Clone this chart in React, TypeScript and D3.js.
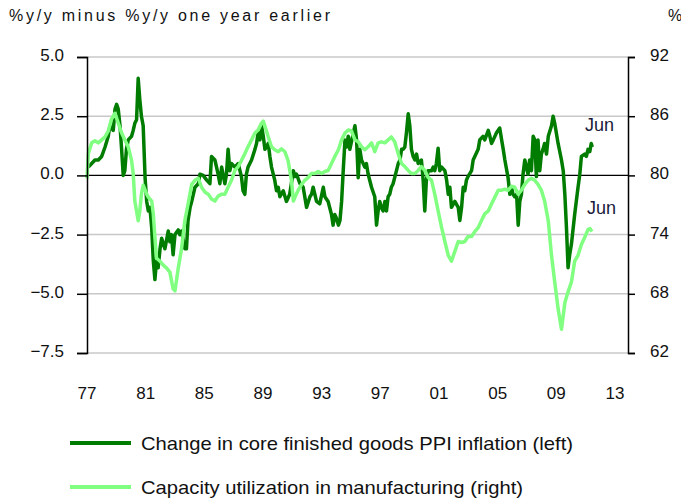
import React, { useEffect, useRef } from 'react';
import * as d3 from 'd3';

// Change in core finished goods PPI inflation (left axis), decimal years
const ppiYears = [
  1977.09, 1977.32, 1977.54, 1977.77, 1978.0, 1978.23, 1978.45, 1978.56, 1978.79, 1978.91,
  1979.02, 1979.13, 1979.25, 1979.36, 1979.47, 1979.58, 1979.69, 1979.81, 1980.04, 1980.15,
  1980.26, 1980.38, 1980.49, 1980.6, 1980.71, 1980.83, 1980.96, 1981.07, 1981.18, 1981.29,
  1981.41, 1981.52, 1981.63, 1981.74, 1981.85, 1981.98, 1982.09, 1982.31, 1982.54, 1982.65,
  1982.76, 1982.87, 1983.0, 1983.22, 1983.33, 1983.45, 1983.67, 1983.78, 1983.89, 1984.03,
  1984.14, 1984.36, 1984.59, 1984.7, 1984.92, 1985.16, 1985.38, 1985.49, 1985.72, 1985.94,
  1986.06, 1986.18, 1986.4, 1986.51, 1986.62, 1986.74, 1986.85, 1987.08, 1987.31, 1987.53,
  1987.64, 1987.76, 1987.87, 1987.98, 1988.22, 1988.45, 1988.56, 1988.67, 1988.79, 1988.9,
  1989.02, 1989.13, 1989.36, 1989.47, 1989.58, 1989.8, 1989.92, 1990.04, 1990.15, 1990.38,
  1990.6, 1990.82, 1991.07, 1991.18, 1991.29, 1991.52, 1991.74, 1991.97, 1992.2, 1992.31,
  1992.42, 1992.65, 1992.87, 1993.11, 1993.22, 1993.44, 1993.67, 1993.78, 1993.89, 1994.0,
  1994.14, 1994.25, 1994.36, 1994.47, 1994.59, 1994.7, 1994.81, 1994.92, 1995.16, 1995.27,
  1995.38, 1995.49, 1995.6, 1995.72, 1995.94, 1996.05, 1996.17, 1996.4, 1996.62, 1996.74,
  1996.85, 1996.96, 1997.07, 1997.19, 1997.31, 1997.42, 1997.53, 1997.64, 1997.75, 1997.87,
  1998.1, 1998.22, 1998.34, 1998.45, 1998.56, 1998.67, 1998.78, 1998.9, 1999.01, 1999.12,
  1999.24, 1999.36, 1999.47, 1999.58, 1999.8, 1999.92, 2000.03, 2000.14, 2000.26, 2000.49,
  2000.6, 2000.71, 2000.82, 2000.94, 2001.05, 2001.18, 2001.4, 2001.52, 2001.63, 2001.74,
  2001.85, 2002.08, 2002.31, 2002.42, 2002.54, 2002.65, 2002.76, 2002.87, 2002.98, 2003.22,
  2003.33, 2003.44, 2003.67, 2003.78, 2004.0, 2004.12, 2004.36, 2004.47, 2004.58, 2004.7,
  2004.92, 2005.14, 2005.27, 2005.38, 2005.49, 2005.71, 2005.83, 2005.94, 2006.05, 2006.16,
  2006.29, 2006.4, 2006.51, 2006.62, 2006.73, 2006.85, 2006.96, 2007.07, 2007.18, 2007.3,
  2007.42, 2007.53, 2007.64, 2007.75, 2007.87, 2007.98, 2008.09, 2008.2, 2008.33, 2008.45,
  2008.67, 2008.78, 2008.89, 2009.12, 2009.35, 2009.47, 2009.58, 2009.69, 2009.8, 2009.91,
  2010.03, 2010.25, 2010.48, 2010.6, 2010.71, 2010.93, 2011.05, 2011.16, 2011.28, 2011.38,
  2011.45
];
const ppiValues = [
  0.35, 0.5, 0.65, 0.65, 0.8, 1.2, 1.65, 2.1, 1.9, 2.8,
  3.0, 2.8, 2.1, 1.1, 0.0, 0.2, 1.1, 1.5, 1.65, 1.9,
  2.2, 2.35, 4.1, 3.2, 2.5, 2.1, -0.1, -1.1, -1.5, -1.35,
  -2.2, -3.6, -4.4, -3.6, -3.9, -3.1, -2.65, -3.1, -2.35, -2.8,
  -2.5, -3.35, -2.5, -2.3, -2.5, -2.35, -3.1, -3.1, -1.9, -1.35,
  -1.1, -0.5, -0.35, 0.05, 0.0, -0.2, -0.35, 0.8, 0.65, 0.05,
  -0.35, 0.35, -0.35, 0.05, 1.1, 0.2, 0.5, 0.35, 0.5, -0.05,
  -0.65, -0.8, 0.05, 0.35, 0.65, 1.1, 1.35, 1.8, 1.5, 2.1,
  1.65, 1.1, 1.35, 0.8, 0.35, -0.2, -0.65, -0.5, -0.9, -0.65,
  -1.1, -0.8, 0.2, -0.05, 0.05, -0.35, -0.5, -1.35, -0.9, -0.8,
  -0.5, -1.1, -1.2, -0.5, -0.9, -1.1, -1.65, -2.1, -1.65, -1.8,
  -2.1, -1.9, -1.1, 0.2, 1.5, 1.2, 1.65, 1.1, 1.8, 2.1,
  1.5, -0.1, 1.1, 0.65, 0.35, 0.5, 0.05, -0.5, -0.9, -2.1,
  -1.5, -1.1, -1.35, -1.5, -1.1, -1.5, -0.9, -0.8, -0.5, -0.35,
  0.2, 0.5, 0.65, 1.1, 1.1, 1.2, 1.8, 2.6, 2.1, 1.1,
  0.8, 0.65, 0.9, 0.5, 0.65, -0.2, -1.5, -0.2, 0.2, 0.2,
  0.35, 0.2, 0.5, 1.15, 0.2, 0.35, 0.2, -0.2, -0.8, -0.5,
  -1.35, -1.1, -1.35, -1.9, -1.35, -0.5, -0.65, -0.2, -0.05, 0.2,
  0.65, 0.8, 1.1, 1.5, 1.65, 1.5, 1.9, 1.65, 1.35, 1.5,
  1.8, 2.0, 1.5, 1.1, 0.65, -0.1, -0.8, -0.5, -0.8, -0.9,
  -0.8, -2.1, -1.1, -0.8, 0.05, 0.65, 0.35, 0.05, 0.65, 0.2,
  1.65, 1.5, -0.05, 1.5, 0.2, 0.9, 1.1, 1.35, 0.9, 1.65,
  2.1, 2.5, 2.2, 1.35, 0.65, 0.2, -0.8, -2.2, -3.9, -3.35,
  -2.9, -1.65, -0.5, 0.05, 0.8, 0.9, 0.8, 1.1, 1.0, 1.35,
  1.2
];

// Capacity utilization in manufacturing (right axis), decimal years
const cuYears = [
  1977.0, 1977.09, 1977.32, 1977.54, 1977.77, 1978.0, 1978.23, 1978.45, 1978.67, 1978.91,
  1979.13, 1979.36, 1979.58, 1979.81, 1980.04, 1980.15, 1980.26, 1980.49, 1980.6, 1980.71,
  1980.83, 1981.07, 1981.18, 1981.41, 1981.52, 1981.63, 1981.74, 1981.98, 1982.2, 1982.43,
  1982.65, 1982.87, 1983.0, 1983.22, 1983.45, 1983.67, 1983.89, 1984.14, 1984.36, 1984.59,
  1984.81, 1985.05, 1985.27, 1985.49, 1985.72, 1985.94, 1986.18, 1986.4, 1986.62, 1986.85,
  1987.08, 1987.31, 1987.53, 1987.76, 1987.98, 1988.22, 1988.45, 1988.67, 1988.9, 1989.02,
  1989.13, 1989.36, 1989.58, 1989.8, 1990.04, 1990.26, 1990.49, 1990.71, 1990.94, 1991.07,
  1991.18, 1991.4, 1991.63, 1991.85, 1992.09, 1992.31, 1992.54, 1992.76, 1992.99, 1993.22,
  1993.44, 1993.67, 1993.89, 1994.14, 1994.36, 1994.59, 1994.81, 1995.03, 1995.27, 1995.49,
  1995.72, 1995.94, 1996.17, 1996.4, 1996.62, 1996.85, 1997.07, 1997.31, 1997.53, 1997.75,
  1997.98, 1998.22, 1998.45, 1998.67, 1998.9, 1999.12, 1999.36, 1999.58, 1999.8, 2000.03,
  2000.26, 2000.49, 2000.71, 2000.94, 2001.18, 2001.4, 2001.63, 2001.85, 2002.08, 2002.31,
  2002.54, 2002.76, 2002.98, 2003.22, 2003.44, 2003.67, 2003.89, 2004.12, 2004.36, 2004.58,
  2004.81, 2005.04, 2005.27, 2005.49, 2005.72, 2005.94, 2006.16, 2006.4, 2006.62, 2006.85,
  2007.07, 2007.3, 2007.53, 2007.75, 2007.98, 2008.2, 2008.45, 2008.67, 2008.89, 2009.12,
  2009.35, 2009.58, 2009.8, 2010.03, 2010.25, 2010.48, 2010.71, 2010.93, 2011.16, 2011.3,
  2011.42
];
const cuValues = [
  79.7, 82.2, 83.3, 83.5, 83.3, 83.6, 83.9, 84.5, 85.7, 86.3,
  85.3, 84.3, 83.6, 82.9, 81.5, 80.2, 77.4, 75.4, 76.4, 78.1,
  79.0, 78.1, 77.8, 77.4, 76.1, 73.7, 71.6, 71.3, 70.9, 70.6,
  70.2, 68.5, 68.3, 70.6, 72.6, 75.4, 77.1, 79.1, 79.5, 79.7,
  78.8, 78.3, 78.1, 77.6, 77.4, 77.9, 78.1, 78.1, 78.8, 79.5,
  80.5, 80.9, 81.5, 82.2, 82.9, 83.6, 84.3, 84.6, 85.3, 85.5,
  85.0, 83.9, 82.9, 82.6, 82.4, 82.7, 82.4, 81.5, 79.5, 77.4,
  77.8, 78.5, 79.1, 79.5, 79.8, 80.2, 80.2, 80.4, 80.2, 80.4,
  80.5, 81.2, 81.9, 82.6, 83.6, 84.3, 84.6, 84.5, 83.6, 83.4,
  82.9, 82.6, 82.9, 83.3, 82.4, 83.3, 83.4, 83.3, 83.6, 83.9,
  83.4, 82.2, 81.2, 80.9, 80.5, 80.2, 80.2, 80.5, 80.9, 80.5,
  79.8, 79.5, 78.1, 76.4, 74.7, 73.3, 71.9, 71.3, 72.3, 73.3,
  73.2, 73.3, 73.8, 73.8, 74.3, 74.7, 75.4, 76.1, 76.4, 77.1,
  77.8, 78.5, 78.5, 78.6, 78.5, 78.9, 78.8, 78.1, 78.5, 79.1,
  79.5, 79.7, 79.5, 79.1, 78.5, 77.4, 75.4, 71.9, 69.2, 66.5,
  64.4, 67.1, 68.2, 69.2, 71.3, 71.9, 73.0, 73.7, 74.5, 74.6,
  74.3
];

const leftTicks = [5, 2.5, 0, -2.5, -5, -7.5];
const rightTicks = [92, 86, 80, 74, 68, 62];
const yearTicks = [1977, 1981, 1985, 1989, 1993, 1997, 2001, 2005, 2009, 2013];

const FONT = '"Liberation Sans", Arial, sans-serif';
const DARK = '#007c00';
const LIGHT = '#80ff80';

const App = () => {
  const svgRef = useRef(null);

  useEffect(() => {
    const svg = d3.select(svgRef.current);
    svg.selectAll('*').remove();

    const left = 87, right = 628, top = 57, bottom = 353;

    const x = d3.scaleLinear().domain([1977, 2013]).range([87, 615]);
    const yL = d3.scaleLinear().domain([-7.5, 5]).range([bottom, top]);
    const yR = d3.scaleLinear().domain([62, 92]).range([bottom, top]);

    // title
    svg.append('text')
      .attr('x', 9).attr('y', 21)
      .attr('textLength', 321).attr('lengthAdjust', 'spacing')
      .style('font-family', FONT).style('font-size', '16px').attr('fill', '#111')
      .text('%y/y minus %y/y one year earlier');
    svg.append('text')
      .attr('x', 668).attr('y', 21)
      .style('font-family', FONT).style('font-size', '16px').attr('fill', '#111')
      .text('%');

    // gridlines
    svg.append('g').selectAll('line')
      .data(leftTicks.filter(d => d !== 0))
      .join('line')
      .attr('x1', left).attr('x2', right)
      .attr('y1', d => yL(d)).attr('y2', d => yL(d))
      .attr('stroke', '#c8c8c8').attr('stroke-width', 1.5);

    svg.append('line')
      .attr('x1', left).attr('x2', right)
      .attr('y1', yL(0)).attr('y2', yL(0))
      .attr('stroke', '#000').attr('stroke-width', 1.2);

    const ppi = ppiYears.map((t, i) => [t, ppiValues[i]]);
    const cu = cuYears.map((t, i) => [t, cuValues[i]]);

    svg.append('path')
      .datum(ppi)
      .attr('fill', 'none').attr('stroke', DARK).attr('stroke-width', 3.5)
      .attr('stroke-linejoin', 'round')
      .attr('d', d3.line().x(d => x(d[0])).y(d => yL(d[1])));

    svg.append('path')
      .datum(cu)
      .attr('fill', 'none').attr('stroke', LIGHT).attr('stroke-width', 3.5)
      .attr('stroke-linejoin', 'round')
      .attr('d', d3.line().x(d => x(d[0])).y(d => yR(d[1])));

    // axes
    const axisL = svg.append('g')
      .attr('transform', `translate(${left},0)`)
      .call(d3.axisLeft(yL).tickValues(leftTicks).tickFormat(d3.format('.1f')).tickSize(10).tickPadding(13));
    const axisR = svg.append('g')
      .attr('transform', `translate(${right},0)`)
      .call(d3.axisRight(yR).tickValues(rightTicks).tickFormat(d3.format('d')).tickSize(7).tickPadding(15));

    [axisL, axisR].forEach(a => {
      a.select('.domain').attr('stroke', '#000').attr('stroke-width', 1.5);
      a.selectAll('line').attr('stroke', '#000').attr('stroke-width', 1.5);
      a.selectAll('text')
        .attr('dy', '0.2em')
        .style('font-family', FONT).style('font-size', '17px').attr('fill', '#111');
    });

    svg.append('g').selectAll('text')
      .data(yearTicks)
      .join('text')
      .attr('x', d => x(d)).attr('y', 399)
      .attr('text-anchor', 'middle')
      .style('font-family', FONT).style('font-size', '17px').attr('fill', '#111')
      .text(d => String(d % 100).padStart(2, '0'));

    // end labels
    svg.append('text')
      .attr('x', 585).attr('y', 131)
      .style('font-family', FONT).style('font-size', '18px').attr('fill', '#1a1a3a')
      .text('Jun');
    svg.append('text')
      .attr('x', 587).attr('y', 214)
      .style('font-family', FONT).style('font-size', '18px').attr('fill', '#1a1a3a')
      .text('Jun');

    // legend
    const legend = [
      { label: 'Change in core finished goods PPI inflation (left)', color: DARK, y: 443, w: 432 },
      { label: 'Capacity utilization in manufacturing (right)', color: LIGHT, y: 487, w: 382 },
    ];
    const lg = svg.append('g');
    legend.forEach(l => {
      lg.append('line')
        .attr('x1', 70).attr('x2', 131)
        .attr('y1', l.y).attr('y2', l.y)
        .attr('stroke', l.color).attr('stroke-width', 4);
      lg.append('text')
        .attr('x', 141).attr('y', l.y + 7)
        .attr('textLength', l.w).attr('lengthAdjust', 'spacingAndGlyphs')
        .style('font-family', FONT).style('font-size', '19px').attr('fill', '#111')
        .text(l.label);
    });
  }, []);

  return (
    <svg ref={svgRef} width={681} height={498}
      style={{ position: 'absolute', left: 0, top: 0, background: '#fff' }} />
  );
};

export default App;
